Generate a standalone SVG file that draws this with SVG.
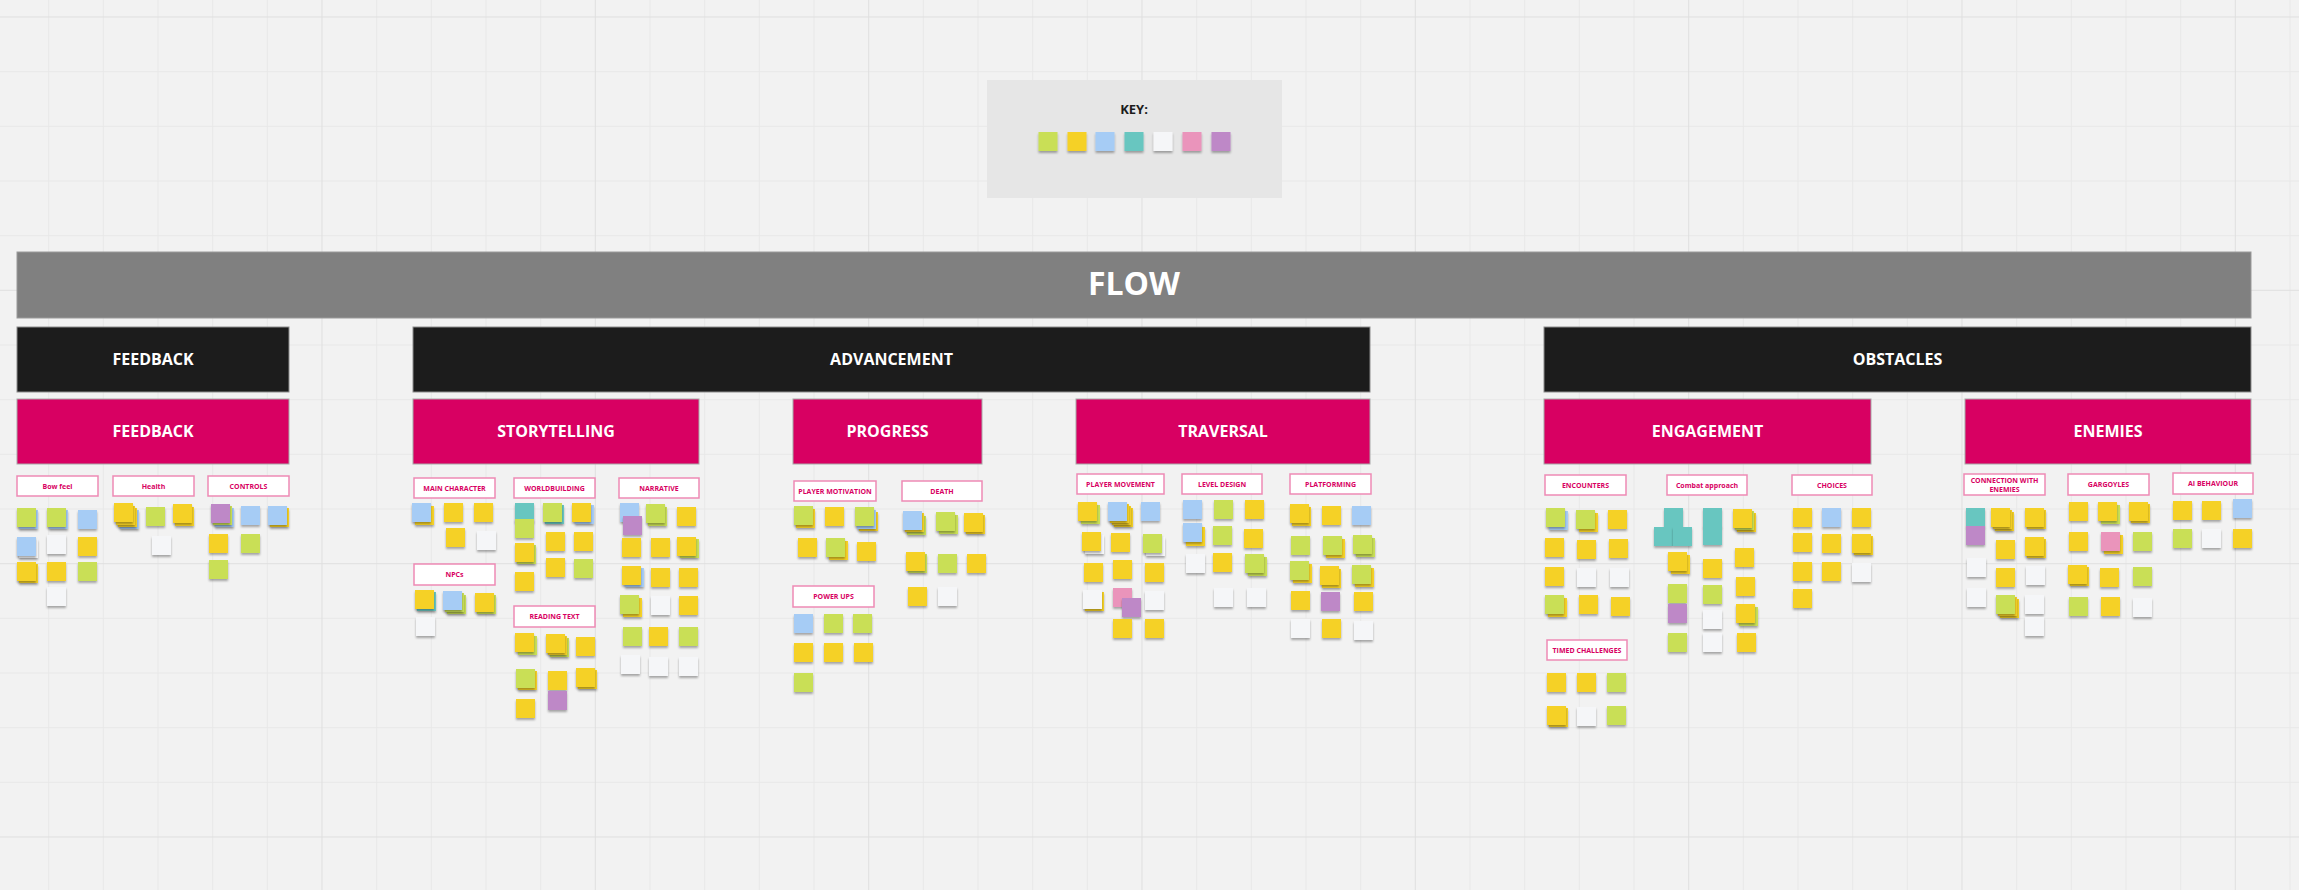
<svg xmlns="http://www.w3.org/2000/svg" width="2299" height="890" viewBox="0 0 2299 890">
<defs>
<filter id="sh" x="-30%" y="-30%" width="160%" height="170%">
<feDropShadow dx="0" dy="2" stdDeviation="1.2" flood-color="#000" flood-opacity="0.32"/>
</filter>
<style>
.bg{fill:#f2f2f2}
.gmin{stroke:#e8e8e8;stroke-width:1;fill:none}
.gmaj{stroke:#dfdfdf;stroke-width:1;fill:none}
.hdr{font-family:"Open Sans","Liberation Sans",sans-serif;font-weight:700;fill:#ffffff;text-anchor:middle}
.flow{fill:#808080;stroke:#9a9a9a;stroke-width:1}
.blk{fill:#1c1c1c;stroke:#8c8c8c;stroke-width:1}
.pnk{fill:#d80062;stroke:#a8a8a8;stroke-width:1}
.lbl{fill:#ffffff;stroke:#ee8ab5;stroke-width:1.5}
.lt{font-family:"Open Sans","Liberation Sans",sans-serif;font-weight:700;font-size:7px;fill:#d80062;text-anchor:middle}
.s rect{filter:url(#sh)}
.y{fill:#f5d128}.l{fill:#c9df56}.b{fill:#a6ccf5}.t{fill:#67c6c0}.w{fill:#f5f6f8}.p{fill:#ea94bb}.v{fill:#be88c7}
</style>
</defs>
<rect class="bg" x="0" y="0" width="2299" height="890"/>
<g id="grid">
<path class="gmin" d="M48.7 0V890M103.3 0V890M158 0V890M212.7 0V890M267.3 0V890M376.7 0V890M431.3 0V890M486 0V890M540.7 0V890M650 0V890M704.7 0V890M759.3 0V890M814 0V890M923.3 0V890M978 0V890M1032.7 0V890M1087.3 0V890M1196.7 0V890M1251.3 0V890M1306 0V890M1360.7 0V890M1470 0V890M1524.7 0V890M1579.3 0V890M1634 0V890M1743.3 0V890M1798 0V890M1852.7 0V890M1907.3 0V890M2016.7 0V890M2071.3 0V890M2126 0V890M2180.7 0V890M2290 0V890M0 71.7H2299M0 126.3H2299M0 181H2299M0 235.7H2299M0 345H2299M0 399.7H2299M0 454.3H2299M0 509H2299M0 618.3H2299M0 673H2299M0 727.7H2299M0 782.3H2299"/>
<path class="gmaj" d="M322 0V890M595.3 0V890M868.7 0V890M1142 0V890M1415.3 0V890M1688.7 0V890M1962 0V890M2235.3 0V890M0 17H2299M0 290.3H2299M0 563.7H2299M0 837H2299"/>
</g>

<g id="key">
<rect x="987" y="80" width="295" height="118" fill="#e6e6e6"/>
<text x="1134" y="114" font-family="Open Sans, Liberation Sans, sans-serif" font-weight="700" font-size="13" fill="#1c1c1c" text-anchor="middle">KEY:</text>
<g class="s">
<rect class="l" x="1038.5" y="132" width="19" height="19"/>
<rect class="y" x="1067.5" y="132" width="19" height="19"/>
<rect class="b" x="1095.5" y="132" width="19" height="19"/>
<rect class="t" x="1124.5" y="132" width="19" height="19"/>
<rect class="w" x="1153.5" y="132" width="19" height="19"/>
<rect class="p" x="1182.5" y="132" width="19" height="19"/>
<rect class="v" x="1211.5" y="132" width="19" height="19"/>
</g>
</g>

<g id="flow">
<rect class="flow" x="17" y="252" width="2234" height="66"/>
<text class="hdr" x="1134" y="295" font-size="32">FLOW</text>
</g>

<g id="cat-feedback"><rect class="blk" x="17" y="327" width="272" height="65"/><text class="hdr" x="153" y="365" font-size="16">FEEDBACK</text></g>
<g id="cat-advancement"><rect class="blk" x="413" y="327" width="957" height="65"/><text class="hdr" x="891.5" y="365" font-size="16">ADVANCEMENT</text></g>
<g id="cat-obstacles"><rect class="blk" x="1544" y="327" width="707" height="65"/><text class="hdr" x="1897.5" y="365" font-size="16">OBSTACLES</text></g>

<g id="sub-feedback"><rect class="pnk" x="17" y="399" width="272" height="65"/><text class="hdr" x="153" y="437" font-size="16">FEEDBACK</text></g>
<g id="sub-storytelling"><rect class="pnk" x="413" y="399" width="286" height="65"/><text class="hdr" x="556" y="437" font-size="16">STORYTELLING</text></g>
<g id="sub-progress"><rect class="pnk" x="793" y="399" width="189" height="65"/><text class="hdr" x="887.5" y="437" font-size="16">PROGRESS</text></g>
<g id="sub-traversal"><rect class="pnk" x="1076" y="399" width="294" height="65"/><text class="hdr" x="1223" y="437" font-size="16">TRAVERSAL</text></g>
<g id="sub-engagement"><rect class="pnk" x="1544" y="399" width="327" height="65"/><text class="hdr" x="1707.5" y="437" font-size="16">ENGAGEMENT</text></g>
<g id="sub-enemies"><rect class="pnk" x="1965" y="399" width="286" height="65"/><text class="hdr" x="2108" y="437" font-size="16">ENEMIES</text></g>

<g id="lbl-bowfeel"><rect class="lbl" x="17" y="476" width="81" height="20"/><text class="lt" x="57.5" y="488.5">Bow feel</text></g>
<g id="lbl-health"><rect class="lbl" x="113" y="476" width="81" height="20"/><text class="lt" x="153.5" y="488.5">Health</text></g>
<g id="lbl-controls"><rect class="lbl" x="208" y="476" width="81" height="20"/><text class="lt" x="248.5" y="488.5">CONTROLS</text></g>
<g id="lbl-maincharacter"><rect class="lbl" x="414" y="478" width="81" height="20"/><text class="lt" x="454.5" y="490.5">MAIN CHARACTER</text></g>
<g id="lbl-worldbuilding"><rect class="lbl" x="514" y="478" width="81" height="20"/><text class="lt" x="554.5" y="490.5">WORLDBUILDING</text></g>
<g id="lbl-narrative"><rect class="lbl" x="619" y="478" width="80" height="20"/><text class="lt" x="659" y="490.5">NARRATIVE</text></g>
<g id="lbl-npcs"><rect class="lbl" x="414" y="564" width="81" height="21"/><text class="lt" x="454.5" y="577">NPCs</text></g>
<g id="lbl-readingtext"><rect class="lbl" x="514" y="606" width="81" height="21"/><text class="lt" x="554.5" y="619">READING TEXT</text></g>
<g id="lbl-playermotivation"><rect class="lbl" x="794" y="481" width="82" height="20"/><text class="lt" x="835" y="493.5">PLAYER MOTIVATION</text></g>
<g id="lbl-death"><rect class="lbl" x="902" y="481" width="80" height="20"/><text class="lt" x="942" y="493.5">DEATH</text></g>
<g id="lbl-powerups"><rect class="lbl" x="793" y="586" width="81" height="21"/><text class="lt" x="833.5" y="599">POWER UPS</text></g>
<g id="lbl-playermovement"><rect class="lbl" x="1077" y="474" width="87" height="20"/><text class="lt" x="1120.5" y="486.5">PLAYER MOVEMENT</text></g>
<g id="lbl-leveldesign"><rect class="lbl" x="1182" y="474" width="80" height="20"/><text class="lt" x="1222" y="486.5">LEVEL DESIGN</text></g>
<g id="lbl-platforming"><rect class="lbl" x="1290" y="474" width="81" height="20"/><text class="lt" x="1330.5" y="486.5">PLATFORMING</text></g>
<g id="lbl-encounters"><rect class="lbl" x="1545" y="475" width="81" height="20"/><text class="lt" x="1585.5" y="487.5">ENCOUNTERS</text></g>
<g id="lbl-combat"><rect class="lbl" x="1667" y="475" width="80" height="20"/><text class="lt" x="1707" y="487.5">Combat approach</text></g>
<g id="lbl-choices"><rect class="lbl" x="1792" y="475" width="80" height="20"/><text class="lt" x="1832" y="487.5">CHOICES</text></g>
<g id="lbl-timed"><rect class="lbl" x="1547" y="640" width="80" height="20"/><text class="lt" x="1587" y="652.5">TIMED CHALLENGES</text></g>
<g id="lbl-connection"><rect class="lbl" x="1964" y="474" width="81" height="21"/><text class="lt" x="2004.5" y="482.5">CONNECTION WITH</text><text class="lt" x="2004.5" y="492">ENEMIES</text></g>
<g id="lbl-gargoyles"><rect class="lbl" x="2068" y="474" width="81" height="21"/><text class="lt" x="2108.5" y="487">GARGOYLES</text></g>
<g id="lbl-ai"><rect class="lbl" x="2173" y="473" width="80" height="21"/><text class="lt" x="2213" y="486">AI BEHAVIOUR</text></g>

<g id="notes-bowfeel" class="s">
<rect class="b" x="19" y="510" width="19" height="19"/><rect class="l" x="17" y="508" width="19" height="19"/>
<rect class="w" x="19" y="539" width="19" height="19"/><rect class="b" x="17" y="537" width="19" height="19"/>
<rect class="y" x="19" y="564" width="19" height="19"/><rect class="y" x="17" y="562" width="19" height="19"/>
<rect class="b" x="49" y="510" width="19" height="19"/><rect class="l" x="47" y="508" width="19" height="19"/>
<rect class="w" x="47" y="535" width="19" height="19"/>
<rect class="y" x="47" y="562" width="19" height="19"/>
<rect class="w" x="47" y="587" width="19" height="19"/>
<rect class="b" x="78" y="510" width="19" height="19"/>
<rect class="y" x="78" y="537" width="19" height="19"/>
<rect class="l" x="78" y="562" width="19" height="19"/>
</g>
<g id="notes-health" class="s">
<rect class="b" x="120" y="510" width="19" height="19"/><rect class="y" x="118" y="508" width="19" height="19"/><rect class="y" x="116" y="506" width="19" height="19"/><rect class="y" x="114" y="503" width="19" height="19"/>
<rect class="l" x="146" y="507" width="19" height="19"/>
<rect class="w" x="152" y="536" width="19" height="19"/>
<rect class="y" x="175" y="507" width="19" height="19"/><rect class="y" x="173" y="504" width="19" height="19"/>
</g>
<g id="notes-controls" class="s">
<rect class="b" x="215" y="508" width="19" height="19"/><rect class="l" x="213" y="506" width="19" height="19"/><rect class="v" x="211" y="504" width="19" height="19"/>
<rect class="b" x="241" y="506" width="19" height="19"/>
<rect class="y" x="270" y="508" width="19" height="19"/><rect class="b" x="268" y="506" width="19" height="19"/>
<rect class="y" x="209" y="534" width="19" height="19"/>
<rect class="l" x="241" y="534" width="19" height="19"/>
<rect class="l" x="209" y="560" width="19" height="19"/>
</g>

<g id="notes-maincharacter" class="s">
<rect class="y" x="415" y="506" width="19" height="19"/><rect class="b" x="412" y="503" width="19" height="19"/>
<rect class="y" x="444" y="503" width="19" height="19"/>
<rect class="y" x="474" y="503" width="19" height="19"/>
<rect class="y" x="446" y="528" width="19" height="19"/>
<rect class="w" x="477" y="531" width="19" height="19"/>
</g>
<g id="notes-npcs" class="s">
<rect class="t" x="417" y="592" width="19" height="19"/><rect class="y" x="415" y="590" width="19" height="19"/>
<rect class="l" x="447" y="595" width="19" height="19"/><rect class="l" x="445" y="593" width="19" height="19"/><rect class="b" x="443" y="591" width="19" height="19"/>
<rect class="l" x="477" y="595" width="19" height="19"/><rect class="y" x="475" y="593" width="19" height="19"/>
<rect class="w" x="416" y="617" width="19" height="19"/>
</g>
<g id="notes-worldbuilding" class="s">
<rect class="t" x="515" y="503" width="19" height="19"/><rect class="l" x="515" y="519" width="19" height="19"/>
<rect class="t" x="545" y="505" width="19" height="19"/><rect class="l" x="543" y="503" width="19" height="19"/>
<rect class="b" x="575" y="505" width="19" height="19"/><rect class="y" x="572" y="503" width="19" height="19"/>
<rect class="l" x="517" y="545" width="19" height="19"/><rect class="y" x="515" y="543" width="19" height="19"/>
<rect class="y" x="546" y="532" width="19" height="19"/>
<rect class="y" x="574" y="532" width="19" height="19"/>
<rect class="y" x="515" y="572" width="19" height="19"/>
<rect class="y" x="546" y="558" width="19" height="19"/>
<rect class="l" x="574" y="559" width="19" height="19"/>
</g>
<g id="notes-readingtext" class="s">
<rect class="l" x="518" y="636" width="19" height="19"/><rect class="y" x="515" y="633" width="19" height="19"/>
<rect class="l" x="550" y="638" width="19" height="19"/><rect class="y" x="548" y="636" width="19" height="19"/><rect class="y" x="546" y="634" width="19" height="19"/>
<rect class="y" x="576" y="637" width="19" height="19"/>
<rect class="y" x="518" y="671" width="19" height="19"/><rect class="l" x="516" y="669" width="19" height="19"/>
<rect class="y" x="548" y="671" width="19" height="19"/><rect class="v" x="548" y="691" width="19" height="19"/>
<rect class="y" x="578" y="670" width="19" height="19"/><rect class="y" x="576" y="668" width="19" height="19"/>
<rect class="y" x="516" y="699" width="19" height="19"/>
</g>
<g id="notes-narrative" class="s">
<rect class="b" x="620" y="503" width="19" height="19"/><rect class="v" x="623" y="516" width="19" height="19"/>
<rect class="l" x="648" y="507" width="19" height="19"/><rect class="l" x="646" y="504" width="19" height="19"/>
<rect class="y" x="677" y="507" width="19" height="19"/>
<rect class="y" x="622" y="538" width="19" height="19"/>
<rect class="y" x="651" y="538" width="19" height="19"/>
<rect class="l" x="680" y="539" width="19" height="19"/><rect class="y" x="677" y="537" width="19" height="19"/>
<rect class="b" x="625" y="568" width="19" height="19"/><rect class="y" x="622" y="566" width="19" height="19"/>
<rect class="y" x="651" y="568" width="19" height="19"/>
<rect class="y" x="679" y="568" width="19" height="19"/>
<rect class="y" x="623" y="598" width="19" height="19"/><rect class="l" x="620" y="595" width="19" height="19"/>
<rect class="w" x="651" y="596" width="19" height="19"/>
<rect class="y" x="679" y="596" width="19" height="19"/>
<rect class="l" x="623" y="627" width="19" height="19"/>
<rect class="y" x="649" y="627" width="19" height="19"/>
<rect class="l" x="679" y="627" width="19" height="19"/>
<rect class="w" x="621" y="655" width="19" height="19"/>
<rect class="w" x="649" y="657" width="19" height="19"/>
<rect class="w" x="679" y="657" width="19" height="19"/>
</g>

<g id="notes-playermotivation" class="s">
<rect class="y" x="796" y="509" width="19" height="19"/><rect class="l" x="794" y="506" width="19" height="19"/>
<rect class="y" x="825" y="507" width="19" height="19"/>
<rect class="y" x="859" y="512" width="19" height="19"/><rect class="b" x="857" y="510" width="19" height="19"/><rect class="l" x="855" y="507" width="19" height="19"/>
<rect class="y" x="798" y="538" width="19" height="19"/>
<rect class="y" x="829" y="541" width="19" height="19"/><rect class="l" x="826" y="538" width="19" height="19"/>
<rect class="y" x="857" y="542" width="19" height="19"/>
</g>
<g id="notes-death" class="s">
<rect class="l" x="907" y="516" width="19" height="19"/><rect class="y" x="905" y="513" width="19" height="19"/><rect class="b" x="903" y="511" width="19" height="19"/>
<rect class="l" x="939" y="515" width="19" height="19"/><rect class="l" x="936" y="512" width="19" height="19"/>
<rect class="y" x="966" y="515" width="19" height="19"/><rect class="y" x="964" y="513" width="19" height="19"/>
<rect class="l" x="908" y="554" width="19" height="19"/><rect class="y" x="906" y="552" width="19" height="19"/>
<rect class="l" x="938" y="554" width="19" height="19"/>
<rect class="y" x="967" y="554" width="19" height="19"/>
<rect class="y" x="908" y="587" width="19" height="19"/>
<rect class="w" x="938" y="587" width="19" height="19"/>
</g>
<g id="notes-powerups" class="s">
<rect class="b" x="794" y="614" width="19" height="19"/>
<rect class="l" x="824" y="614" width="19" height="19"/>
<rect class="l" x="853" y="614" width="19" height="19"/>
<rect class="y" x="794" y="643" width="19" height="19"/>
<rect class="y" x="824" y="643" width="19" height="19"/>
<rect class="y" x="854" y="643" width="19" height="19"/>
<rect class="l" x="794" y="673" width="19" height="19"/>
</g>

<g id="notes-playermovement" class="s">
<rect class="l" x="1081" y="505" width="19" height="19"/><rect class="y" x="1078" y="502" width="19" height="19"/>
<rect class="y" x="1114" y="508" width="19" height="19"/><rect class="y" x="1112" y="506" width="19" height="19"/><rect class="y" x="1110" y="504" width="19" height="19"/><rect class="b" x="1108" y="502" width="19" height="19"/>
<rect class="b" x="1141" y="502" width="19" height="19"/>
<rect class="w" x="1085" y="535" width="19" height="19"/><rect class="y" x="1082" y="532" width="19" height="19"/>
<rect class="y" x="1111" y="533" width="19" height="19"/>
<rect class="w" x="1146" y="537" width="19" height="19"/><rect class="l" x="1143" y="534" width="19" height="19"/>
<rect class="y" x="1084" y="563" width="19" height="19"/>
<rect class="y" x="1113" y="560" width="19" height="19"/>
<rect class="y" x="1145" y="563" width="19" height="19"/>
<rect class="y" x="1085" y="592" width="19" height="19"/><rect class="w" x="1083" y="590" width="19" height="19"/>
<rect class="p" x="1113" y="588" width="19" height="19"/><rect class="v" x="1122" y="598" width="19" height="19"/>
<rect class="w" x="1145" y="591" width="19" height="19"/>
<rect class="y" x="1113" y="619" width="19" height="19"/>
<rect class="y" x="1145" y="619" width="19" height="19"/>
</g>
<g id="notes-leveldesign" class="s">
<rect class="b" x="1183" y="500" width="19" height="19"/>
<rect class="l" x="1214" y="500" width="19" height="19"/>
<rect class="y" x="1245" y="500" width="19" height="19"/>
<rect class="y" x="1186" y="527" width="19" height="19"/><rect class="b" x="1183" y="523" width="19" height="19"/>
<rect class="l" x="1213" y="526" width="19" height="19"/>
<rect class="y" x="1244" y="529" width="19" height="19"/>
<rect class="w" x="1186" y="554" width="19" height="19"/>
<rect class="y" x="1213" y="553" width="19" height="19"/>
<rect class="l" x="1248" y="557" width="19" height="19"/><rect class="l" x="1245" y="554" width="19" height="19"/>
<rect class="w" x="1214" y="588" width="19" height="19"/>
<rect class="w" x="1247" y="588" width="19" height="19"/>
</g>
<g id="notes-platforming" class="s">
<rect class="y" x="1292" y="507" width="19" height="19"/><rect class="y" x="1290" y="504" width="19" height="19"/>
<rect class="y" x="1322" y="506" width="19" height="19"/>
<rect class="b" x="1352" y="506" width="19" height="19"/>
<rect class="l" x="1291" y="536" width="19" height="19"/>
<rect class="y" x="1326" y="539" width="19" height="19"/><rect class="l" x="1323" y="536" width="19" height="19"/>
<rect class="l" x="1356" y="538" width="19" height="19"/><rect class="l" x="1353" y="535" width="19" height="19"/>
<rect class="y" x="1293" y="564" width="19" height="19"/><rect class="l" x="1290" y="561" width="19" height="19"/>
<rect class="y" x="1322" y="569" width="19" height="19"/><rect class="y" x="1320" y="566" width="19" height="19"/>
<rect class="y" x="1355" y="568" width="19" height="19"/><rect class="l" x="1352" y="565" width="19" height="19"/>
<rect class="y" x="1291" y="591" width="19" height="19"/>
<rect class="v" x="1321" y="592" width="19" height="19"/>
<rect class="y" x="1354" y="592" width="19" height="19"/>
<rect class="w" x="1291" y="619" width="19" height="19"/>
<rect class="y" x="1322" y="619" width="19" height="19"/>
<rect class="w" x="1354" y="621" width="19" height="19"/>
</g>

<g id="notes-encounters" class="s">
<rect class="b" x="1549" y="511" width="19" height="19"/><rect class="l" x="1546" y="508" width="19" height="19"/>
<rect class="y" x="1579" y="513" width="19" height="19"/><rect class="l" x="1576" y="510" width="19" height="19"/>
<rect class="y" x="1608" y="510" width="19" height="19"/>
<rect class="y" x="1545" y="538" width="19" height="19"/>
<rect class="y" x="1577" y="540" width="19" height="19"/>
<rect class="y" x="1609" y="539" width="19" height="19"/>
<rect class="y" x="1545" y="567" width="19" height="19"/>
<rect class="w" x="1577" y="568" width="19" height="19"/>
<rect class="w" x="1610" y="568" width="19" height="19"/>
<rect class="y" x="1548" y="598" width="19" height="19"/><rect class="l" x="1545" y="595" width="19" height="19"/>
<rect class="y" x="1579" y="595" width="19" height="19"/>
<rect class="y" x="1611" y="597" width="19" height="19"/>
</g>
<g id="notes-timed" class="s">
<rect class="y" x="1547" y="673" width="19" height="19"/>
<rect class="y" x="1577" y="673" width="19" height="19"/>
<rect class="l" x="1607" y="673" width="19" height="19"/>
<rect class="y" x="1549" y="708" width="19" height="19"/><rect class="y" x="1547" y="706" width="19" height="19"/>
<rect class="w" x="1577" y="707" width="19" height="19"/>
<rect class="l" x="1607" y="706" width="19" height="19"/>
</g>
<g id="notes-combat" class="s">
<rect class="t" x="1664" y="508" width="19" height="19"/>
<rect class="t" x="1654" y="527" width="19" height="19"/>
<rect class="t" x="1673" y="527" width="19" height="19"/>
<rect class="t" x="1703" y="508" width="19" height="19"/>
<rect class="t" x="1703" y="526" width="19" height="19"/>
<rect class="y" x="1737" y="513" width="19" height="19"/><rect class="l" x="1735" y="511" width="19" height="19"/><rect class="y" x="1733" y="509" width="19" height="19"/>
<rect class="y" x="1671" y="555" width="19" height="19"/><rect class="y" x="1668" y="552" width="19" height="19"/>
<rect class="y" x="1703" y="559" width="19" height="19"/>
<rect class="y" x="1735" y="548" width="19" height="19"/>
<rect class="l" x="1668" y="584" width="19" height="19"/>
<rect class="v" x="1668" y="604" width="19" height="19"/>
<rect class="l" x="1703" y="585" width="19" height="19"/>
<rect class="y" x="1736" y="577" width="19" height="19"/>
<rect class="w" x="1703" y="610" width="19" height="19"/>
<rect class="l" x="1739" y="607" width="19" height="19"/><rect class="y" x="1736" y="604" width="19" height="19"/>
<rect class="l" x="1668" y="633" width="19" height="19"/>
<rect class="w" x="1703" y="633" width="19" height="19"/>
<rect class="y" x="1737" y="633" width="19" height="19"/>
</g>
<g id="notes-choices" class="s">
<rect class="y" x="1793" y="508" width="19" height="19"/>
<rect class="b" x="1822" y="508" width="19" height="19"/>
<rect class="y" x="1852" y="508" width="19" height="19"/>
<rect class="y" x="1793" y="533" width="19" height="19"/>
<rect class="y" x="1822" y="534" width="19" height="19"/>
<rect class="y" x="1854" y="536" width="19" height="19"/><rect class="y" x="1852" y="534" width="19" height="19"/>
<rect class="y" x="1793" y="562" width="19" height="19"/>
<rect class="y" x="1822" y="562" width="19" height="19"/>
<rect class="w" x="1852" y="563" width="19" height="19"/>
<rect class="y" x="1793" y="589" width="19" height="19"/>
</g>

<g id="notes-connection" class="s">
<rect class="t" x="1966" y="508" width="19" height="19"/><rect class="v" x="1966" y="526" width="19" height="19"/>
<rect class="y" x="1995" y="512" width="19" height="19"/><rect class="y" x="1993" y="510" width="19" height="19"/><rect class="y" x="1991" y="508" width="19" height="19"/>
<rect class="y" x="2027" y="510" width="19" height="19"/><rect class="y" x="2025" y="508" width="19" height="19"/>
<rect class="y" x="1996" y="540" width="19" height="19"/>
<rect class="y" x="2027" y="539" width="19" height="19"/><rect class="y" x="2025" y="537" width="19" height="19"/>
<rect class="w" x="1967" y="558" width="19" height="19"/>
<rect class="y" x="1996" y="568" width="19" height="19"/>
<rect class="w" x="2026" y="566" width="19" height="19"/>
<rect class="w" x="1967" y="588" width="19" height="19"/>
<rect class="y" x="2000" y="599" width="19" height="19"/><rect class="y" x="1998" y="597" width="19" height="19"/><rect class="l" x="1996" y="595" width="19" height="19"/>
<rect class="w" x="2025" y="595" width="19" height="19"/>
<rect class="w" x="2025" y="617" width="19" height="19"/>
</g>
<g id="notes-gargoyles" class="s">
<rect class="y" x="2069" y="502" width="19" height="19"/>
<rect class="l" x="2101" y="505" width="19" height="19"/><rect class="y" x="2098" y="502" width="19" height="19"/>
<rect class="y" x="2131" y="504" width="19" height="19"/><rect class="y" x="2129" y="502" width="19" height="19"/>
<rect class="y" x="2069" y="532" width="19" height="19"/>
<rect class="y" x="2104" y="535" width="19" height="19"/><rect class="p" x="2101" y="532" width="19" height="19"/>
<rect class="l" x="2133" y="532" width="19" height="19"/>
<rect class="y" x="2070" y="567" width="19" height="19"/><rect class="y" x="2068" y="565" width="19" height="19"/>
<rect class="y" x="2100" y="568" width="19" height="19"/>
<rect class="l" x="2133" y="567" width="19" height="19"/>
<rect class="l" x="2069" y="597" width="19" height="19"/>
<rect class="y" x="2101" y="597" width="19" height="19"/>
<rect class="w" x="2133" y="598" width="19" height="19"/>
</g>
<g id="notes-ai" class="s">
<rect class="y" x="2173" y="501" width="19" height="19"/>
<rect class="y" x="2202" y="501" width="19" height="19"/>
<rect class="b" x="2233" y="499" width="19" height="19"/>
<rect class="l" x="2173" y="529" width="19" height="19"/>
<rect class="w" x="2202" y="529" width="19" height="19"/>
<rect class="y" x="2233" y="529" width="19" height="19"/>
</g>

<g id="connectors"/>
</svg>
